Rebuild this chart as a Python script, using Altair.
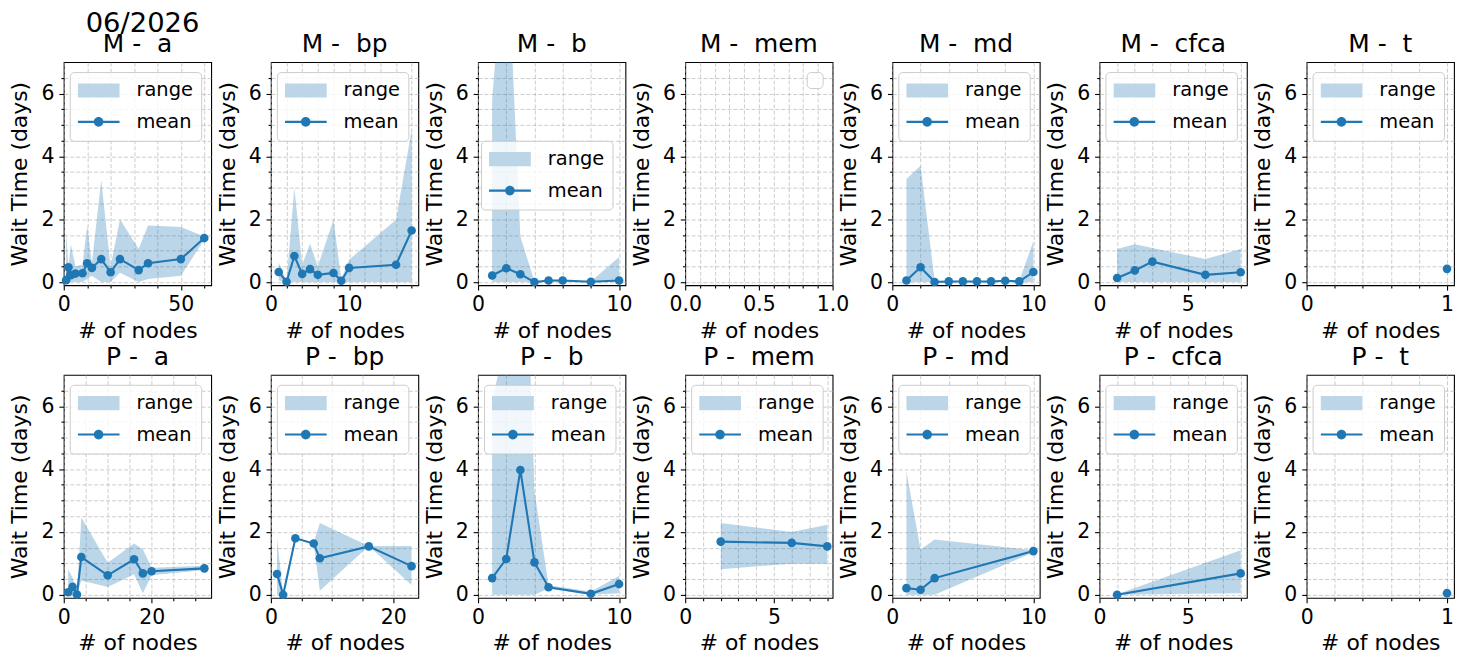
import altair as alt
import pandas as pd

# ---------------- data ----------------
M_a_nodes = [1, 2, 3, 5, 8, 10, 12, 16, 20, 24, 32, 36, 50, 60]
M_a_mean = [0.06, 0.47, 0.22, 0.27, 0.28, 0.60, 0.45, 0.73, 0.31, 0.73, 0.38, 0.60, 0.73, 1.40]
M_a_low = [0.0, 0.0, 0.0, 0.0, 0.0, 0.10, 0.20, 0.0, 0.0, 0.30, 0.0, 0.10, 0.20, 1.35]
M_a_high = [1.60, 0.50, 1.20, 0.50, 0.55, 1.80, 0.60, 3.25, 0.50, 2.00, 1.05, 1.80, 1.75, 1.45]

M_bp_nodes = [1, 2, 3, 4, 5, 6, 8, 9, 10, 16, 18]
M_bp_mean = [0.32, 0.01, 0.83, 0.26, 0.41, 0.23, 0.29, 0.04, 0.45, 0.55, 1.64]
M_bp_low = [0.05, 0.0, 0.0, 0.0, 0.0, 0.0, 0.0, 0.0, 0.0, 0.0, 0.0]
M_bp_high = [0.62, 0.02, 3.00, 0.55, 1.22, 0.50, 1.98, 0.10, 0.71, 1.98, 4.85]

M_b_nodes = [1, 2, 3, 4, 5, 6, 8, 10]
M_b_mean = [0.21, 0.44, 0.25, 0.0, 0.05, 0.05, 0.01, 0.05]
M_b_low = [0.0, 0.0, 0.0, 0.0, 0.0, 0.0, 0.0, 0.0]
M_b_high = [5.8, 11.5, 1.45, 0.02, 0.05, 0.05, 0.02, 0.80]

M_mem_nodes = []
M_mem_mean = []
M_mem_low = []
M_mem_high = []

M_md_nodes = [1, 2, 3, 4, 5, 6, 7, 8, 9, 10]
M_md_mean = [0.05, 0.47, 0.0, 0.02, 0.02, 0.02, 0.02, 0.04, 0.02, 0.32]
M_md_low = [0.0, 0.0, 0.0, 0.0, 0.0, 0.0, 0.0, 0.0, 0.0, 0.0]
M_md_high = [3.28, 3.70, 0.05, 0.03, 0.03, 0.03, 0.03, 0.06, 0.03, 1.30]

M_cfca_nodes = [1, 2, 3, 6, 8]
M_cfca_mean = [0.13, 0.37, 0.65, 0.23, 0.31]
M_cfca_low = [0.0, 0.0, 0.0, 0.0, 0.0]
M_cfca_high = [1.05, 1.20, 1.08, 0.73, 1.05]

M_t_nodes = [1]
M_t_mean = [0.42]
M_t_low = [0.42]
M_t_high = [0.42]

P_a_nodes = [1, 2, 3, 4, 10, 16, 18, 20, 32]
P_a_mean = [0.08, 0.25, 0.01, 1.20, 0.62, 1.13, 0.68, 0.75, 0.84]
P_a_low = [0.0, 0.0, 0.0, 0.45, 0.25, 0.65, 0.05, 0.62, 0.79]
P_a_high = [0.80, 0.55, 0.02, 2.46, 1.02, 1.63, 1.45, 0.86, 0.92]

P_bp_nodes = [1, 2, 4, 7, 8, 16, 23]
P_bp_mean = [0.66, 0.0, 1.80, 1.63, 1.16, 1.54, 0.91]
P_bp_low = [0.0, 0.0, 1.80, 1.60, 0.13, 1.55, 0.31]
P_bp_high = [1.81, 0.02, 1.80, 1.66, 2.28, 1.55, 1.55]

P_b_nodes = [1, 2, 3, 4, 5, 8, 10]
P_b_mean = [0.53, 1.14, 3.97, 1.03, 0.24, 0.03, 0.34]
P_b_low = [0.0, 0.0, 0.0, 0.0, 0.20, 0.0, 0.05]
P_b_high = [6.2, 8.1, 16.5, 3.3, 0.30, 0.10, 0.60]

P_mem_nodes = [2, 6, 8]
P_mem_mean = [1.69, 1.65, 1.54]
P_mem_low = [0.81, 0.99, 0.99]
P_mem_high = [2.28, 2.00, 2.23]

P_md_nodes = [1, 2, 3, 10]
P_md_mean = [0.21, 0.16, 0.53, 1.39]
P_md_low = [0.0, 0.0, 0.0, 1.35]
P_md_high = [3.92, 1.44, 1.76, 1.42]

P_cfca_nodes = [1, 8]
P_cfca_mean = [0.0, 0.68]
P_cfca_low = [0.0, 0.05]
P_cfca_high = [0.02, 1.42]

P_t_nodes = [1]
P_t_mean = [0.05]
P_t_low = [0.05]
P_t_high = [0.05]

SUPTITLE = "06/2026"
GROUPS = ["a", "bp", "b", "mem", "md", "cfca", "t"]
ROWS = ["M", "P"]
X_TITLE = "# of nodes"
Y_TITLE = "Wait Time (days)"
LEGEND_LABELS = ["range", "mean"]

Y_DOMAIN = [-0.1, 7]
Y_MAJORS = [0, 2, 4, 6]
Y_MINOR_STEP = 0.5

# x tick layout per group: (majors, minor step, label format)
X_TICKS = {
    ("M", "a"): ([0, 50], 10, ".0f"),
    ("M", "bp"): ([0, 10], 2, ".0f"),
    ("M", "b"): ([0, 10], 2, ".0f"),
    ("M", "mem"): ([0.0, 0.5, 1.0], 0.1, ".1f"),
    ("M", "md"): ([0, 10], 2, ".0f"),
    ("M", "cfca"): ([0, 5], 1, ".0f"),
    ("M", "t"): ([0, 1], 0.2, ".0f"),
    ("P", "a"): ([0, 20], 5, ".0f"),
    ("P", "bp"): ([0, 20], 5, ".0f"),
    ("P", "b"): ([0, 10], 2, ".0f"),
    ("P", "mem"): ([0, 5], 1, ".0f"),
    ("P", "md"): ([0, 10], 2, ".0f"),
    ("P", "cfca"): ([0, 5], 1, ".0f"),
    ("P", "t"): ([0, 1], 0.2, ".0f"),
}

BLUE = "#1f77b4"
RANGE_LEGEND = "#bcd6e8"
RECT_PATH = "M-1,-0.34H1V0.34H-1Z"
MEAN_PATH = ("M-1,-0.05H1V0.05H-1Z "
             "M0.23,0A0.23,0.23,0,1,1,-0.23,0A0.23,0.23,0,1,1,0.23,0Z")

W, H = 148, 224


def ticks_from(step, top):
    n = int(top / step + 1e-9)
    return [round(i * step, 6) for i in range(n + 1)]


def make_panel(row, grp):
    nodes = globals()[f"{row}_{grp}_nodes"]
    mean = globals()[f"{row}_{grp}_mean"]
    low = globals()[f"{row}_{grp}_low"]
    high = globals()[f"{row}_{grp}_high"]
    df = pd.DataFrame({"nodes": pd.Series(nodes, dtype=float),
                       "mean": pd.Series(mean, dtype=float),
                       "low": pd.Series(low, dtype=float),
                       "high": pd.Series(high, dtype=float)})
    df["kind"] = pd.Series(["mean"] * len(nodes), dtype=object)

    majors, mstep, fmt = X_TICKS[(row, grp)]
    if len(nodes) == 0:
        xmax = 1.0
    elif len(nodes) == 1:
        xmax = nodes[0] * 1.05
    else:
        xmax = max(nodes) + 0.05 * (max(nodes) - min(nodes))
    xvals = ticks_from(mstep, xmax)
    xtest = f"indexof({majors}, datum.value) >= 0"
    x_axis = alt.Axis(values=xvals, format=fmt, title=X_TITLE,
                      labelExpr=f"{xtest} ? datum.label : ''",
                      tickSize={"condition": {"test": xtest, "value": 4.9}, "value": 2.8})
    # minor grid every 0.5 (the line at the top edge coincides with the frame)
    yvals = ticks_from(Y_MINOR_STEP, Y_DOMAIN[1] - Y_MINOR_STEP)
    ytest = f"indexof({Y_MAJORS}, datum.value) >= 0"
    y_axis = alt.Axis(values=yvals, format=".0f", title=Y_TITLE, titleX=-32,
                      labelExpr=f"{ytest} ? datum.label : ''",
                      tickSize={"condition": {"test": ytest, "value": 4.9}, "value": 2.8})

    xenc = alt.X("nodes:Q", scale=alt.Scale(domain=[0, xmax], nice=False, zero=False), axis=x_axis)
    yscale = alt.Scale(domain=Y_DOMAIN, nice=False, zero=False)

    base = alt.Chart(df)
    area = base.mark_area(color=BLUE, opacity=0.3, clip=True).encode(
        x=xenc, y=alt.Y("low:Q", scale=yscale, axis=y_axis), y2="high:Q")
    line = base.mark_line(color=BLUE, strokeWidth=2.1, clip=True).encode(
        x=xenc, y=alt.Y("mean:Q", scale=yscale, axis=y_axis))
    pts = base.mark_point(filled=True, color=BLUE, size=75, opacity=1).encode(
        x=xenc, y=alt.Y("mean:Q", scale=yscale, axis=y_axis))
    layers = [area, line, pts]

    if len(nodes) > 0:
        if (row, grp) == ("M", "b"):
            lpos = dict(orient="none", legendX=3, legendY=79)
        else:
            lpos = dict(orient="top-right", offset=10)
        leg = alt.Legend(title=None, symbolOpacity=1, **lpos)
        cdom = LEGEND_LABELS
        legend_layer = base.mark_point(filled=True, opacity=0).encode(
            x=xenc, y=alt.Y("mean:Q", scale=yscale, axis=y_axis),
            color=alt.Color("kind:N", scale=alt.Scale(domain=cdom, range=[RANGE_LEGEND, BLUE]), legend=leg),
            shape=alt.Shape("kind:N", scale=alt.Scale(domain=cdom, range=[RECT_PATH, MEAN_PATH]), legend=leg),
        )
    else:
        # an empty legend frame, as drawn when there is nothing to label
        leg = alt.Legend(title=None, orient="top-right", offset=10, symbolOpacity=0,
                         symbolSize=0, clipHeight=1, labelOffset=0, labelExpr="''",
                         labelFontSize=1, padding=7.5)
        legend_layer = base.mark_point(filled=True, opacity=0).encode(
            x=xenc, y=alt.Y("mean:Q", scale=yscale, axis=y_axis),
            color=alt.Color("kind:N", scale=alt.Scale(domain=["none"], range=["white"]), legend=leg),
        )
    layers.append(legend_layer)

    title = alt.Title(f"{row} - \u00a0{grp}")
    return alt.layer(*layers).properties(width=W, height=H, title=title)


panels = [make_panel(r, g) for r in ROWS for g in GROUPS]

chart = alt.concat(
    *panels, columns=7, spacing={"row": 90, "column": 60}, bounds="flush",
    title=alt.Title(SUPTITLE, fontSize=27.5, anchor="start", frame="group", dx=22, offset=-28,
                    baseline="alphabetic"),
).resolve_scale(color="independent", shape="independent").resolve_legend(
    color="independent", shape="independent"
).properties(
    padding={"left": 0, "top": 0, "right": 0, "bottom": 0}
).configure(
    font="DejaVu Sans", background="white"
).configure_view(
    stroke="black", strokeWidth=1.1
).configure_axis(
    grid=True, gridColor="#b0b0b0", gridOpacity=0.8, gridDash=[4, 2], gridWidth=0.8,
    domain=False, ticks=True, tickColor="black", tickWidth=1.1,
    labelFont="DejaVu Sans", labelFontSize=20.5, labelColor="black", labelPadding=4.9,
    labelFlush=False, labelOverlap=False,
    titleFont="DejaVu Sans", titleFontSize=22, titleFontWeight="normal", titleColor="black",
    titlePadding=5,
).configure_title(
    font="DejaVu Sans", fontSize=25, fontWeight="normal", color="black", offset=5,
    baseline="alphabetic"
).configure_legend(
    labelFont="DejaVu Sans", labelFontSize=19.5, labelColor="black", labelLimit=300,
    symbolSize=1764, clipHeight=21, rowPadding=10.5, labelOffset=17, padding=8,
    symbolStrokeWidth=0, symbolOffset=0,
    fillColor="rgba(255,255,255,0.8)", strokeColor="#cccccc", cornerRadius=4,
)

chart.save("out.html", embed_options={"renderer": "svg", "actions": False})
